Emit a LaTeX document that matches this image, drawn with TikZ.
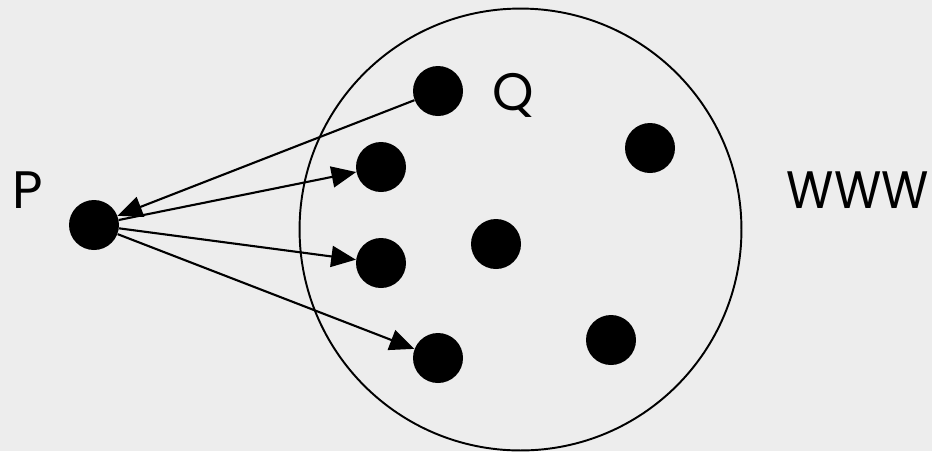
\documentclass[tikz,border=0pt]{standalone}
\usepackage{fontspec}
\setmainfont{Poppins}
\usetikzlibrary{arrows.meta}
\definecolor{bggray}{RGB}{237,237,237}
\tikzset{
  pg/.style={circle, fill=black, inner sep=0pt, minimum size=1cm},
  web/.style={draw, circle, line width=1.1pt, inner sep=0pt, minimum size=8.84cm},
  larr/.style={-{Triangle[length=14pt, width=12pt]}, line width=1.2pt},
  lbl/.style={font=\fontsize{30}{33}\selectfont, inner sep=0pt, anchor=base west},
}
\begin{document}
\begin{tikzpicture}[x=0.02cm, y=-0.02cm]
\fill[bggray] (0,0) rectangle (932,451);
\useasboundingbox (0,0) rectangle (932,451);
% ---- the web ----
\node[web] (www) at (520.5,229.5) {};
% ---- pages ----
\node[pg] (p) at (94,225) {};
\node[pg] (q) at (438,91) {};
\node[pg] (a) at (381,167) {};
\node[pg] (b) at (381,263) {};
\node[pg] (c) at (438,358) {};
\node[pg] (d) at (496,244) {};
\node[pg] (e) at (650,148) {};
\node[pg] (f) at (611,340) {};
% ---- labels ----
\node[lbl] (plbl) at (12,208) {P};
\node[lbl] (qlbl) at (492,110) {Q};
\node[lbl, anchor=base east] (wlbl) at (929,208) {\scalebox{0.92}[1]{WWW}};
% ---- links ----
\draw[larr] (q) -- (p);
\draw[larr] (p) -- (a);
\draw[larr] (p) -- (b);
\draw[larr] (p) -- (c);
\end{tikzpicture}
\end{document}
